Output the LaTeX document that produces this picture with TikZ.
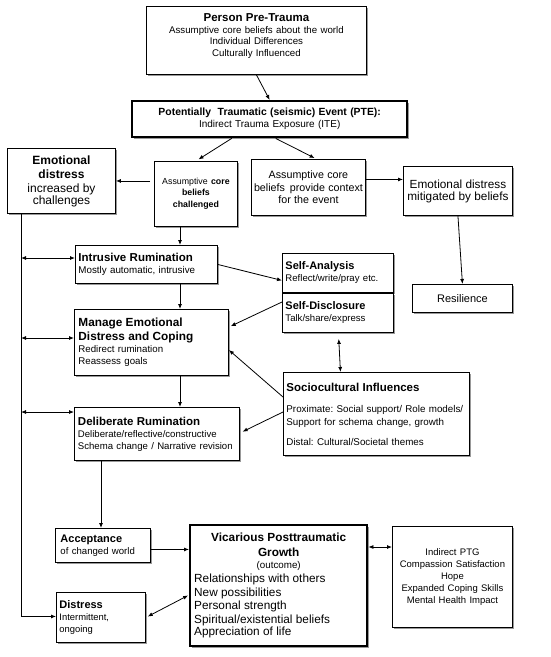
\documentclass[tikz,border=0pt]{standalone}
\usepackage{fontspec}
\setmainfont{Liberation Sans}
\usetikzlibrary{arrows.meta,shadows,calc}
\newcommand{\myfs}[2]{\fontsize{#1}{#2}\selectfont}
\tikzset{
  box/.style={draw=black, line width=0.9pt, fill=white, anchor=north west, inner sep=0pt,
    drop shadow={shadow xshift=1.8pt, shadow yshift=-1.8pt, fill=black!40, opacity=1}},
  thick box/.style={box, line width=2.4pt},
  arr/.style={-{Latex[length=5pt,width=4pt]}, line width=0.8pt},
  darr/.style={{Latex[length=5pt,width=4pt]}-{Latex[length=5pt,width=4pt]}, line width=0.8pt},
  line/.style={line width=0.8pt}
}
\begin{document}
\begin{tikzpicture}[x=1pt,y=-1pt]
\useasboundingbox (0,0) rectangle (550,657);
\fill[white] (0,0) rectangle (550,657);

% nodes
\node[box, minimum width=220pt, minimum height=68pt, text width=214pt, align=center] (pre) at (146,6)
 {\myfs{11.5}{13}\textbf{Person Pre-Trauma}\par
  \myfs{9.7}{11.5}Assumptive core beliefs about the world\\Individual Differences\\Culturally Influenced\par\vspace{-1pt}\mbox{}};
\node[thick box, minimum width=275pt, minimum height=36pt, text width=268pt, align=center] (pte) at (131,100)
 {\myfs{10.4}{13.5}\textbf{Potentially\ \ Traumatic (seismic) Event (PTE):}\par\myfs{10}{12}Indirect Trauma Exposure (ITE)};
\node[box, minimum width=108pt, minimum height=65pt, text width=104pt, align=center] (ed1) at (7,148)
 {\myfs{12}{14}\textbf{Emotional}\\\textbf{distress}\\increased by\\challenges};
\node[box, minimum width=83pt, minimum height=65pt, text width=81pt, align=center] (chal) at (154,161)
 {\myfs{8.8}{10.5}Assumptive \textbf{core}\\\textbf{beliefs}\\\textbf{challenged}};
\node[box, minimum width=114pt, minimum height=56pt, text width=114pt, align=center] (ctx) at (251,159)
 {\myfs{10.7}{13}Assumptive core\\beliefs\hspace{5pt}provide context\\for the event};
\node[box, minimum width=109pt, minimum height=49pt, text width=108pt, align=center] (mit) at (403,166)
 {\myfs{11.8}{14}Emotional distress\\mitigated by beliefs};
\node[box, minimum width=142pt, minimum height=38pt, text width=136pt, align=left] (intr) at (75,245)
 {\myfs{11.5}{13.5}\textbf{Intrusive Rumination}\par\myfs{9.8}{12}Mostly automatic, intrusive};
\node[box, minimum width=111pt, minimum height=39pt, text width=105pt, align=left] (sa) at (282,253)
 {\myfs{11}{13}\textbf{Self-Analysis}\par\myfs{9.6}{12}Reflect/write/pray etc.};
\node[box, minimum width=100pt, minimum height=28pt, text width=96pt, align=center] (res) at (412,284)
 {\myfs{11}{13}Resilience};
\node[box, minimum width=111pt, minimum height=39pt, text width=105pt, align=left] (sd) at (282,293)
 {\myfs{11}{13}\textbf{Self-Disclosure}\par\myfs{9.6}{12}Talk/share/express};
\node[box, minimum width=154pt, minimum height=66pt, text width=146pt, align=left] (man) at (74,309)
 {\myfs{11.8}{14}\textbf{Manage Emotional}\\\textbf{Distress and Coping}\par\myfs{9.7}{12}Redirect rumination\\Reassess goals};
\node[box, minimum width=186pt, minimum height=83pt, text width=180pt, align=left] (soc) at (283,372)
 {\myfs{11.5}{13}\textbf{Sociocultural Influences}\par\vspace{9pt}\myfs{9.8}{12.5}Proximate:\ Social support/ Role models/\\Support for schema change, growth\par\vspace{8pt}Distal:\ Cultural/Societal themes};
\node[box, minimum width=165pt, minimum height=53pt, text width=158pt, align=left] (del) at (74,407)
 {\myfs{11.5}{13}\textbf{Deliberate Rumination}\par\myfs{9.6}{12}Deliberate/reflective/constructive\\Schema change / Narrative revision};
\node[box, minimum width=95pt, minimum height=34pt, text width=85pt, align=left] (acc) at (55,528)
 {\myfs{11}{13}\textbf{Acceptance}\par\myfs{9.6}{11.5}of changed world};
\node[thick box, minimum width=177pt, minimum height=121pt, text width=169pt, align=left] (ptg) at (189,524)
 {\myfs{11.8}{14.5}\makebox[\linewidth][c]{\textbf{Vicarious Posttraumatic}}\\\makebox[\linewidth][c]{\textbf{Growth}}\par
  \myfs{9.8}{12}\makebox[\linewidth][c]{(outcome)}\par
  \myfs{11.8}{13.8}Relationships with others\\New possibilities\\Personal strength\\Spiritual/existential beliefs\\Appreciation of life};
\node[box, minimum width=120pt, minimum height=101pt, text width=118pt, align=center] (rbox) at (392,526)
 {\myfs{9.5}{12}Indirect PTG\\Compassion Satisfaction\\Hope\\Expanded Coping Skills\\Mental Health Impact};
\node[box, minimum width=89pt, minimum height=50pt, text width=83pt, align=left] (dis) at (56,592)
 {\myfs{11}{13.5}\textbf{Distress}\par\myfs{9.4}{11.5}Intermittent,\\ongoing};

% helper coordinates
\coordinate (cx) at (180,0);
\coordinate (cx2) at (101,0);
\coordinate (lx) at (21,0);

% connectors
\draw[arr] (pre.south) -- (pte.north);
\draw[arr, shorten >=3pt] ([xshift=-38pt]pte.south) -- (chal.north);
\draw[arr, shorten >=2pt] ([xshift=6pt]pte.south) -- ([xshift=8pt]ctx.north);
\draw[arr, shorten <=4pt] (chal.west |- ed1.east) -- (ed1.east);
\coordinate (c1) at ($(ctx.east)+(0,-8)$);
\draw[arr] (c1) -- (c1 -| mit.west);
\draw[arr] (mit.south) -- (res.north);
\draw[arr] (chal.south -| cx) -- (intr.north -| cx);
\draw[arr] (intr.east) -- ($(sa.west)+(0,7.5)$);
\draw[arr] (intr.south -| cx) -- (man.north -| cx);
\draw[arr, shorten >=2pt] ($(sd.north west)+(0,9)$) -- ($(man.north east)+(0,18)$);
\draw[arr] ($(soc.north west)+(0,25)$) -- ($(man.north east)+(0,41)$);
\draw[arr, shorten >=3pt] ($(soc.north west)+(0,40)$) -- ($(del.north east)+(0,26)$);
\draw[darr, shorten <=6pt] ($(sd.south)+(0.5,0)$) -- ($(soc.north)+(-36,0)$);
\draw[arr] (man.south -| cx) -- (del.north -| cx);
\draw[arr] (del.south -| cx2) -- (acc.north -| cx2);
\coordinate (a1) at ($(acc.east)+(0,4)$);
\draw[arr] (a1) -- (a1 -| ptg.west);
\draw[darr, shorten <=2pt, shorten >=1pt] (dis.east) -- ($(ptg.north west)+(0,71)$);
\coordinate (a2) at ($(ptg.north east)+(0,23)$);
\draw[darr] (a2) -- (a2 -| rbox.west);
% left spine
\draw[arr] (ed1.south -| lx) |- ($(dis.west)+(0,-1)$);
\coordinate (l1) at ($(intr.north west)+(0,13)$);
\coordinate (l2) at ($(man.north west)+(0,29)$);
\coordinate (l3) at ($(del.north west)+(0,5)$);
\draw[darr] (lx |- l1) -- (l1);
\draw[darr] (lx |- l2) -- (l2);
\draw[darr] (lx |- l3) -- (l3);
\end{tikzpicture}
\end{document}
